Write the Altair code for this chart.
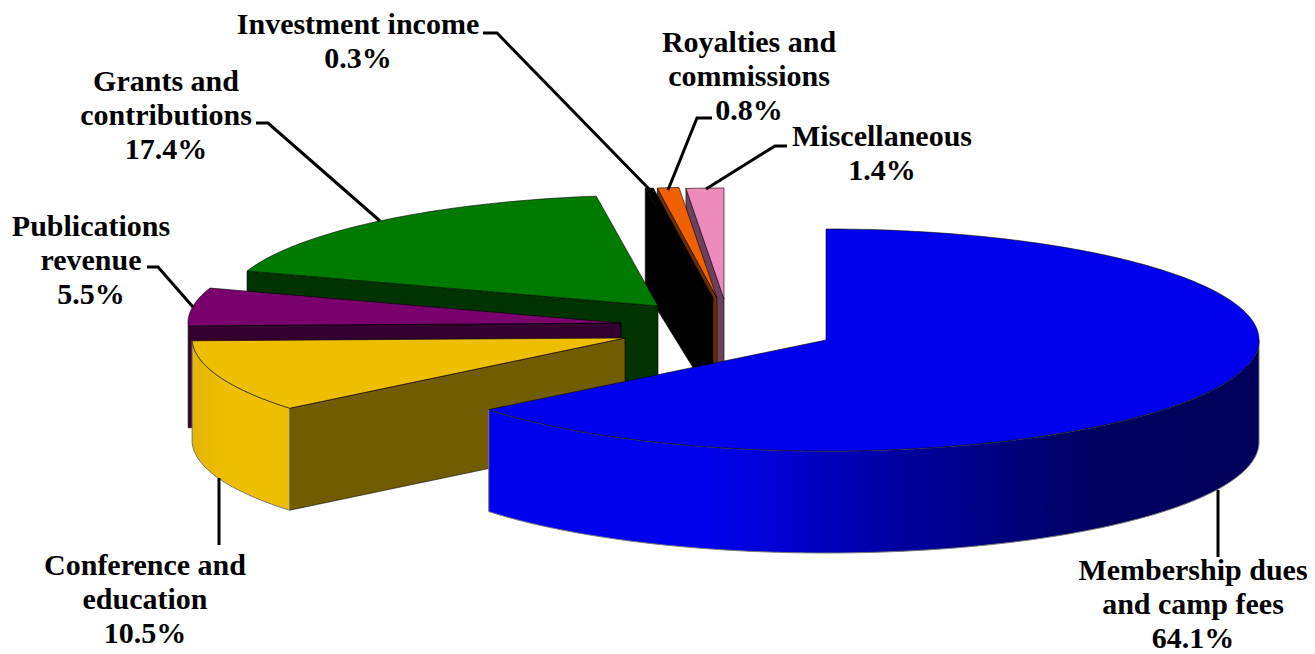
import math
import altair as alt

# --- chart content ---
names = ["Membership dues and camp fees", "Conference and education", "Publications revenue",
         "Grants and contributions", "Investment income", "Royalties and commissions", "Miscellaneous"]
shares = [64.1, 10.5, 5.5, 17.4, 0.3, 0.8, 1.4]
# where each exploded slice's tip sits, in picture units
tip_x = [826, 625, 621, 658, 713, 717, 724]
tip_y = [340, 338, 323, 306, 298, 298, 299]
# small angular correction at the end of a slice, in degrees, as drawn in the picture
end_trim = [0.4, 0, 0, 0.8, 0, 0, 0]
top_fill = ["#0000EE", "#EEBE00", "#7A006E", "#007A00", "#000000", "#F06000", "#EE8ABB"]
cut_fill = ["#000060", "#715C00", "#330030", "#003300", "#000000", "#6B3000", "#6E4060"]

label_lines = [["Membership dues", "and camp fees", "64.1%"], ["Conference and", "education", "10.5%"],
               ["Publications", "revenue", "5.5%"], ["Grants and", "contributions", "17.4%"],
               ["Investment income", "0.3%"], ["Royalties and", "commissions", "0.8%"],
               ["Miscellaneous", "1.4%"]]
label_x = [1193, 145, 91, 166, 358, 749, 882]
label_first_y = [580, 575, 236, 91, 34, 52, 146]
line_gap = 34

leaders = [[(1218, 490), (1218, 557)], [(219, 478), (219, 545)],
           [(147, 267), (158, 267), (193, 307)], [(256, 123), (268, 123), (380, 221)],
           [(483, 33), (497, 33), (650, 190)], [(712, 118), (697, 118), (668, 190)],
           [(787, 146), (775, 146), (706, 189)]]

RX, RY, DEPTH = 433, 111, 102
W, H, M = 1299, 646, 8

# --- slice geometry from the shares ---
starts, run = [], 0.0
for s in shares:
    starts.append(run)
    run += s * 3.6


def rim(i, a0, a1, n=None):
    n = n or max(2, int(abs(a1 - a0)) + 2)
    out = []
    for k in range(n):
        a = math.radians(a0 + (a1 - a0) * k / (n - 1))
        out.append((tip_x[i] + RX * math.sin(a), tip_y[i] - RY * math.cos(a)))
    return out


def feature(points, fill):
    ring = [list(p) for p in points] + [list(points[0])]
    return {"type": "Feature", "properties": {"fill": fill},
            "geometry": {"type": "Polygon", "coordinates": [ring]}}


def end_angle(i):
    return starts[i] + shares[i] * 3.6 + end_trim[i]


def top(i):
    return feature([(tip_x[i], tip_y[i])] + rim(i, starts[i], end_angle(i)), top_fill[i])


def cut(i, angle):
    a = math.radians(angle)
    p = (tip_x[i] + RX * math.sin(a), tip_y[i] - RY * math.cos(a))
    t = (tip_x[i], tip_y[i])
    return feature([p, t, (t[0], t[1] + DEPTH), (p[0], p[1] + DEPTH)], cut_fill[i])


def wall(i, a0, a1, fill="#000000"):
    arc = rim(i, a0, a1)
    low = [(x, y + DEPTH) for x, y in reversed(arc)]
    return feature(arc + low, fill)


def geo(features, **mark):
    return alt.Chart(alt.Data(values=features)).mark_geoshape(filled=True, **mark).encode(
        fill=alt.Fill("properties.fill:N", scale=None)
    ).project(type="identity", scale=1, translate=[-M, -M])


def geo_fill(features, fill, **mark):
    return alt.Chart(alt.Data(values=features)).mark_geoshape(filled=True, fill=fill, **mark).project(
        type="identity", scale=1, translate=[-M, -M])


def gradient(stops):
    return alt.LinearGradient(gradient="linear", x1=0, x2=1, y1=0, y2=0,
                              stops=[alt.GradientStop(offset=o, color=c) for o, c in stops])


back = []
for i in [6, 5, 4, 3, 2]:
    back.append(cut(i, starts[i]))
    back.append(top(i))
back.append(cut(1, starts[1]))

edge = dict(stroke="#000000", strokeWidth=0.6)
layers = [
    geo(back, **edge),
    geo_fill([wall(1, starts[1], end_angle(1))],
             gradient([(0, "#E4B600"), (0.4, "#EEBE00"), (1, "#EEBE00")]), stroke="#777777", strokeWidth=1),
    geo([top(1)], **edge),
    geo_fill([wall(0, 90, end_angle(0))],
             gradient([(0, "#0000EE"), (0.28, "#0000EE"), (0.40, "#0000CC"), (0.53, "#0000A0"),
                       (0.66, "#000080"), (0.79, "#000060"), (1, "#00005A")]),
             stroke="#777777", strokeWidth=1),
    geo([top(0)], **edge),
]

lead_rows = [{"who": names[i], "k": k, "x": p[0], "y": p[1]}
             for i, pts in enumerate(leaders) for k, p in enumerate(pts)]
text_rows = [{"t": t, "x": label_x[i], "y": label_first_y[i] + j * line_gap}
             for i, lines in enumerate(label_lines) for j, t in enumerate(lines)]

xs = alt.Scale(domain=[M, M + W], range=[0, W])
ys = alt.Scale(domain=[M, M + H], range=[0, H])

lead = alt.Chart(alt.Data(values=lead_rows)).mark_line(color="#000000", strokeWidth=3).encode(
    x=alt.X("x:Q", scale=xs, axis=None), y=alt.Y("y:Q", scale=ys, axis=None),
    detail="who:N", order="k:Q")
text = alt.Chart(alt.Data(values=text_rows)).mark_text(
    font="Liberation Serif", fontWeight="bold", fontSize=30, color="#000000",
    align="center", baseline="alphabetic").encode(
    x=alt.X("x:Q", scale=xs, axis=None), y=alt.Y("y:Q", scale=ys, axis=None), text="t:N")

chart = alt.layer(*layers, lead, text).properties(
    width=W, height=H, padding=0, autosize=alt.AutoSizeParams(type="none"),
    background="#FFFFFF"
).configure_view(stroke=None)

chart.save("out.html", embed_options={"renderer": "svg", "actions": False})
